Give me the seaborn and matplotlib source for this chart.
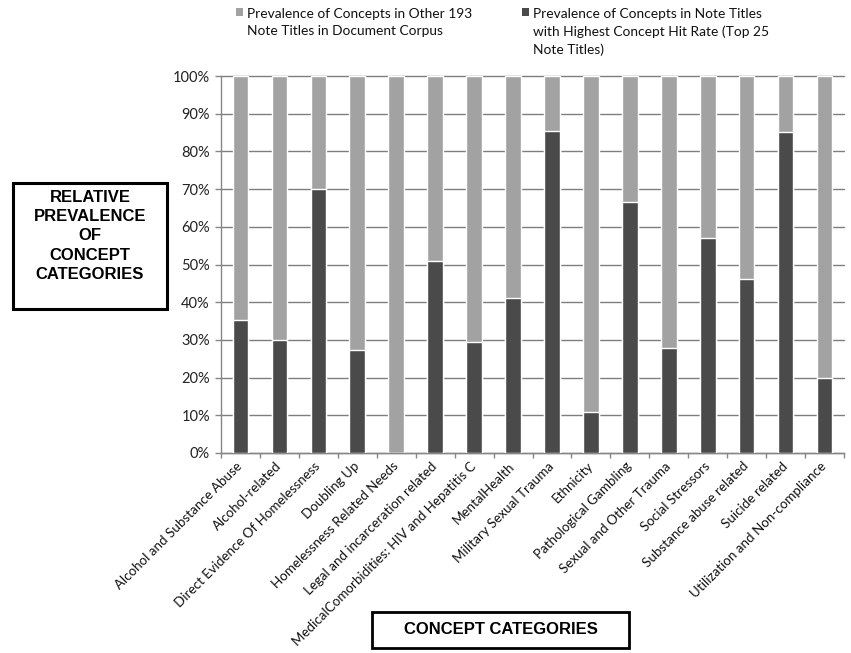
import matplotlib
matplotlib.use("Agg")
import matplotlib.pyplot as plt
import pandas as pd
import seaborn as sns
from matplotlib.patches import Patch, Rectangle
from matplotlib.ticker import FixedLocator, PercentFormatter

# Concept categories and their relative prevalence (percent of all hits)
categories = [
    "Alcohol and Substance Abuse",
    "Alcohol-related",
    "Direct Evidence Of Homelessness",
    "Doubling Up",
    "Homelessness Related Needs",
    "Legal and incarceration related",
    "MedicalComorbidities: HIV and Hepatitis C",
    "MentalHealth",
    "Military Sexual Trauma",
    "Ethnicity",
    "Pathological Gambling",
    "Sexual and Other Trauma",
    "Social Stressors",
    "Substance abuse related",
    "Suicide related",
    "Utilization and Non-compliance",
]
top25_pct = [35.2, 30.1, 69.9, 27.4, 0.0, 50.9, 29.4, 41.0,
             85.3, 11.0, 66.6, 27.9, 56.9, 46.2, 85.1, 19.8]
other193_pct = [64.8, 69.9, 30.1, 72.6, 100.0, 49.1, 70.6, 59.0,
                14.7, 89.0, 33.4, 72.1, 43.1, 53.8, 14.9, 80.2]

legend_other = "Prevalence of Concepts in Other 193\nNote Titles in Document Corpus"
legend_top = "Prevalence of Concepts in Note Titles\nwith Highest Concept Hit Rate (Top 25\nNote Titles)"
y_title = "RELATIVE\nPREVALENCE\nOF\nCONCEPT\nCATEGORIES"
x_title = "CONCEPT CATEGORIES"

DARK = "#4a4a4a"
LIGHT = "#a2a2a2"
AXIS_GREY = "#868686"

sns.set_theme(style="white")
plt.rcParams["font.family"] = ["Lato", "DejaVu Sans"]

df = pd.DataFrame({"category": categories, "top25": top25_pct, "other": other193_pct})
df["stack_top"] = df["top25"] + df["other"]

W, H = 851, 653
fig = plt.figure(figsize=(W / 100, H / 100), dpi=100)


def fx(px):
    return px / W


def fy(py):
    return 1 - py / H


ax = fig.add_axes([fx(221), fy(453), (844 - 221) / W, (453 - 76) / H])

# stacked 100% bars: full stack in light grey, top-25 share drawn over it
sns.barplot(data=df, x="category", y="stack_top", order=categories, color=LIGHT,
            saturation=1, width=0.4, errorbar=None, ax=ax, zorder=2)
sns.barplot(data=df, x="category", y="top25", order=categories, color=DARK,
            saturation=1, width=0.4, errorbar=None, ax=ax, zorder=3)

ax.set_xlim(-0.5, len(categories) - 0.5)
ax.set_ylim(0, 100)
ax.set_xlabel("")
ax.set_ylabel("")

# axes styling
for side in ("top", "right"):
    ax.spines[side].set_visible(False)
for side in ("left", "bottom"):
    ax.spines[side].set_color(AXIS_GREY)
    ax.spines[side].set_linewidth(1.0)

ax.yaxis.set_major_locator(FixedLocator(range(0, 101, 10)))
ax.yaxis.set_major_formatter(PercentFormatter(decimals=0))
ax.grid(axis="y", color="#7e7e7e", linewidth=1.0)
ax.grid(axis="x", visible=False)
ax.set_axisbelow(True)
for gl in ax.get_ygridlines():
    gl.set_clip_on(False)

ax.tick_params(axis="y", which="major", direction="out", length=4, width=1,
               color=AXIS_GREY, pad=4, labelsize=10.5, labelcolor="#222222", left=True)
ax.xaxis.set_minor_locator(FixedLocator([i - 0.5 for i in range(len(categories) + 1)]))
ax.tick_params(axis="x", which="minor", direction="out", length=3.5, width=1,
               color=AXIS_GREY, bottom=True)
ax.tick_params(axis="x", which="major", length=0, pad=8, labelsize=9.6,
               labelcolor="#111111")
for lbl in ax.get_xticklabels():
    lbl.set_rotation(45)
    lbl.set_ha("right")
    lbl.set_va("center")
    lbl.set_rotation_mode("anchor")

# legend entries, one per series, squares level with the first text line
def add_legend(handle, label, x_px):
    leg = fig.legend(handles=[handle], labels=[label], loc="upper left",
                     bbox_to_anchor=(fx(x_px), fy(8)), frameon=False,
                     fontsize=9.9, handlelength=0.5, handleheight=0.5,
                     handletextpad=0.32, borderpad=0, borderaxespad=0)
    for col in leg._legend_handle_box.get_children():
        for item in col.get_children():
            item.align = "top"
    for t in leg.get_texts():
        t.set_linespacing(1.5)
        t.set_color("#111111")
    return leg


add_legend(Patch(facecolor=LIGHT, edgecolor="none"), legend_other, 236)
add_legend(Patch(facecolor=DARK, edgecolor="none"), legend_top, 522)

# boxed axis titles
title_font = dict(family=["Liberation Sans", "DejaVu Sans"], weight="bold",
                  size=12, color="black")
fig.add_artist(Rectangle((fx(13), fy(309)), (167 - 13) / W, (309 - 183) / H,
                         transform=fig.transFigure, fill=False,
                         edgecolor="black", linewidth=2.2))
fig.text(fx(90), fy(236), y_title, ha="center", va="center",
         linespacing=1.37, **title_font)

fig.add_artist(Rectangle((fx(372), fy(648)), (629 - 372) / W, (648 - 612) / H,
                         transform=fig.transFigure, fill=False,
                         edgecolor="black", linewidth=2.0))
fig.text(fx(501), fy(630), x_title, ha="center", va="center", **title_font)

fig.savefig("out.png", dpi=100, facecolor="white")
